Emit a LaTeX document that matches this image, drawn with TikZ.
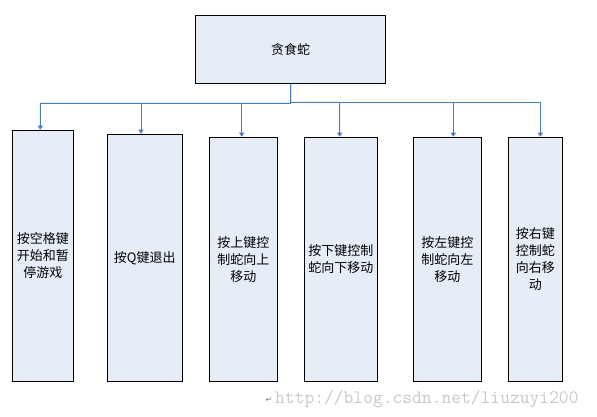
\documentclass[tikz,border=0pt]{standalone}
\usepackage{fontspec}
\setmainfont{Noto Sans CJK SC}
\newfontfamily\symfont{DejaVu Sans}
\usetikzlibrary{arrows.meta}
\definecolor{boxfill}{HTML}{E6EDF7}
\definecolor{connblue}{HTML}{4A7EBB}
\definecolor{wmgray}{HTML}{C8C8C8}
\tikzset{
  box/.style={draw=black, line width=1.1pt, fill=boxfill, inner sep=0pt, align=center,
    font=\fontsize{13pt}{17pt}\selectfont},
  conn/.style={draw=connblue, line width=1pt, -{Triangle[width=5pt,length=4pt]}},
}
\begin{document}
\begin{tikzpicture}[x=1pt,y=-1pt]
\useasboundingbox (0,0) rectangle (597,417);
\node[box, minimum width=190.4pt, minimum height=68pt] (top) at (290.5,49.3) {贪食蛇};
\node[box, minimum width=61pt, minimum height=251pt] (b1) at (42.8,255.8) {按空格键\\开始和暂\\停游戏};
\node[box, minimum width=75.3pt, minimum height=247pt] (b2) at (144.7,257.8) {按Q键退出};
\node[box, minimum width=68pt, minimum height=244pt] (b3) at (243.3,259.3) {按上键控\\制蛇向上\\移动};
\node[box, minimum width=73pt, minimum height=244pt] (b4) at (340.8,259.3) {按下键控制\\蛇向下移动};
\node[box, minimum width=68pt, minimum height=244pt] (b5) at (447.3,259.3) {按左键控\\制蛇向左\\移动};
\node[box, minimum width=54pt, minimum height=244pt] (b6) at (535.3,259.3) {按右键\\控制蛇\\向右移\\动};
\coordinate (busL) at (290.7,103.3);
\coordinate (busR) at (290.7,102.3);
\draw[conn] (top.south) -- (busL) -| ([xshift=-2.5pt]b1.north);
\draw[conn] (busL) -| ([xshift=-3.7pt]b2.north);
\draw[conn] (busL) -| ([xshift=-1.6pt]b3.north);
\draw[conn] (top.south) -- (busR) -| ([xshift=-1.1pt]b4.north);
\draw[conn] (busR) -| ([xshift=6pt]b5.north);
\draw[conn] (busR) -| ([xshift=5pt]b6.north);
\node[anchor=base west, inner sep=0pt, text=gray, font=\symfont\fontsize{8pt}{8pt}\selectfont] (ret) at (265.5,402) {↵};
\node[anchor=base west, inner sep=0pt, text=wmgray, font=\ttfamily\fontsize{19pt}{19pt}\selectfont] (wm) at (275,403) {http://blog.csdn.net/liuzuyi200};
\end{tikzpicture}
\end{document}
